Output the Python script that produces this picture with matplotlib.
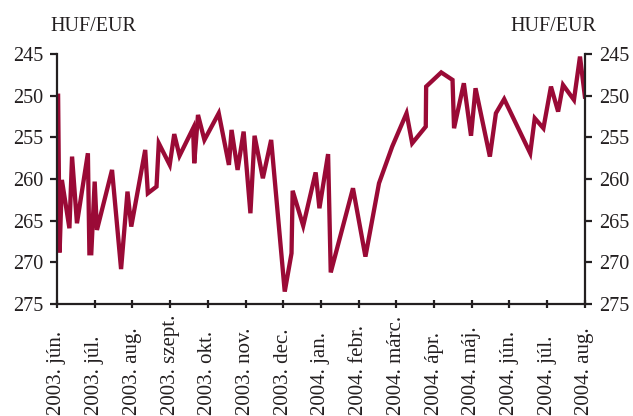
import matplotlib
matplotlib.use('Agg')
import matplotlib.pyplot as plt
import matplotlib.transforms as mtransforms

plt.rcParams.update({
    'font.family': 'Liberation Serif',
    'font.size': 14,
})

# x = months since start of June 2003 (fractional), y = HUF/EUR
month_pos = [0.03, 0.07, 0.13, 0.33, 0.40, 0.53, 0.82, 0.86, 0.91, 1.00,
             1.06, 1.46, 1.70, 1.87, 1.97, 2.34, 2.41, 2.64, 2.70, 2.99,
             3.11, 3.25, 3.61, 3.64, 3.74, 3.91, 4.29, 4.56, 4.63, 4.79,
             4.95, 5.13, 5.24, 5.46, 5.68, 6.04, 6.22, 6.25, 6.53, 6.86,
             6.96, 7.19, 7.26, 7.85, 8.18, 8.54, 8.89, 9.27, 9.42, 9.78,
             9.79, 10.19, 10.49, 10.53, 10.79, 10.98, 11.10, 11.48, 11.64, 11.86,
             12.55, 12.67, 12.90, 13.10, 13.29, 13.42, 13.71, 13.87, 14.00]
huf_eur = [250.0, 268.8, 260.1, 265.9, 257.3, 265.3, 256.9, 268.9, 268.9, 260.3,
           266.1, 258.9, 270.8, 261.5, 265.7, 256.5, 261.7, 260.9, 255.7, 258.3,
           254.6, 257.2, 253.9, 258.1, 252.3, 255.3, 252.1, 258.3, 254.1, 258.9,
           254.3, 264.1, 254.8, 259.9, 255.3, 273.5, 268.9, 261.4, 265.6, 259.2,
           263.5, 257.0, 271.2, 261.1, 269.3, 260.5, 256.1, 252.1, 255.7, 253.7,
           248.9, 247.2, 248.1, 253.9, 248.5, 254.8, 249.1, 257.3, 252.1, 250.4,
           256.9, 252.7, 253.9, 248.9, 251.9, 248.7, 250.5, 245.3, 250.1]

month_labels = ['2003. jún.', '2003. júl.', '2003. aug.', '2003. szept.', '2003. okt.',
                '2003. nov.', '2003. dec.', '2004. jan.', '2004. febr.', '2004. márc.',
                '2004. ápr.', '2004. máj.', '2004. jún.', '2004. júl.', '2004. aug.']
y_ticks = [245, 250, 255, 260, 265, 270, 275]

line_color = '#9A0A36'
axis_color = '#231F20'

fig = plt.figure(figsize=(6.33, 4.16), dpi=100)
ax = fig.add_axes([0.090, 0.269, 0.834, 0.601])

ax.plot(month_pos, huf_eur, color=line_color, lw=3.1, solid_joinstyle='miter')

ax.set_xlim(0, len(month_labels) - 1)
ax.set_ylim(275, 245)
ax.set_yticks(y_ticks)
ax.set_xticks(range(len(month_labels)))
ax.set_xticklabels([])

ax.spines['top'].set_visible(False)
for s in ['left', 'right', 'bottom']:
    ax.spines[s].set_linewidth(1.6)
    ax.spines[s].set_color(axis_color)

ax.tick_params(axis='y', direction='out', length=5, width=1.6, color=axis_color,
               labelsize=14.5, left=True, right=True, labelleft=True, labelright=True,
               pad=5, labelcolor=axis_color)
ax.tick_params(axis='x', direction='inout', length=6, width=1.6, color=axis_color)

# month labels: rotated, anchored at the bottom edge of the figure
trans = mtransforms.blended_transform_factory(ax.transData, fig.transFigure)
for i, lab in enumerate(month_labels):
    ax.text(i, 0.003, lab, transform=trans, rotation=90, ha='center', va='bottom',
            fontsize=15, color=axis_color, clip_on=False)

fig.text(0.079, 0.936, 'HUF/EUR', fontsize=14.5, color=axis_color, ha='left', va='center')
fig.text(0.943, 0.936, 'HUF/EUR', fontsize=14.5, color=axis_color, ha='right', va='center')

fig.savefig('out.png', dpi=100)
